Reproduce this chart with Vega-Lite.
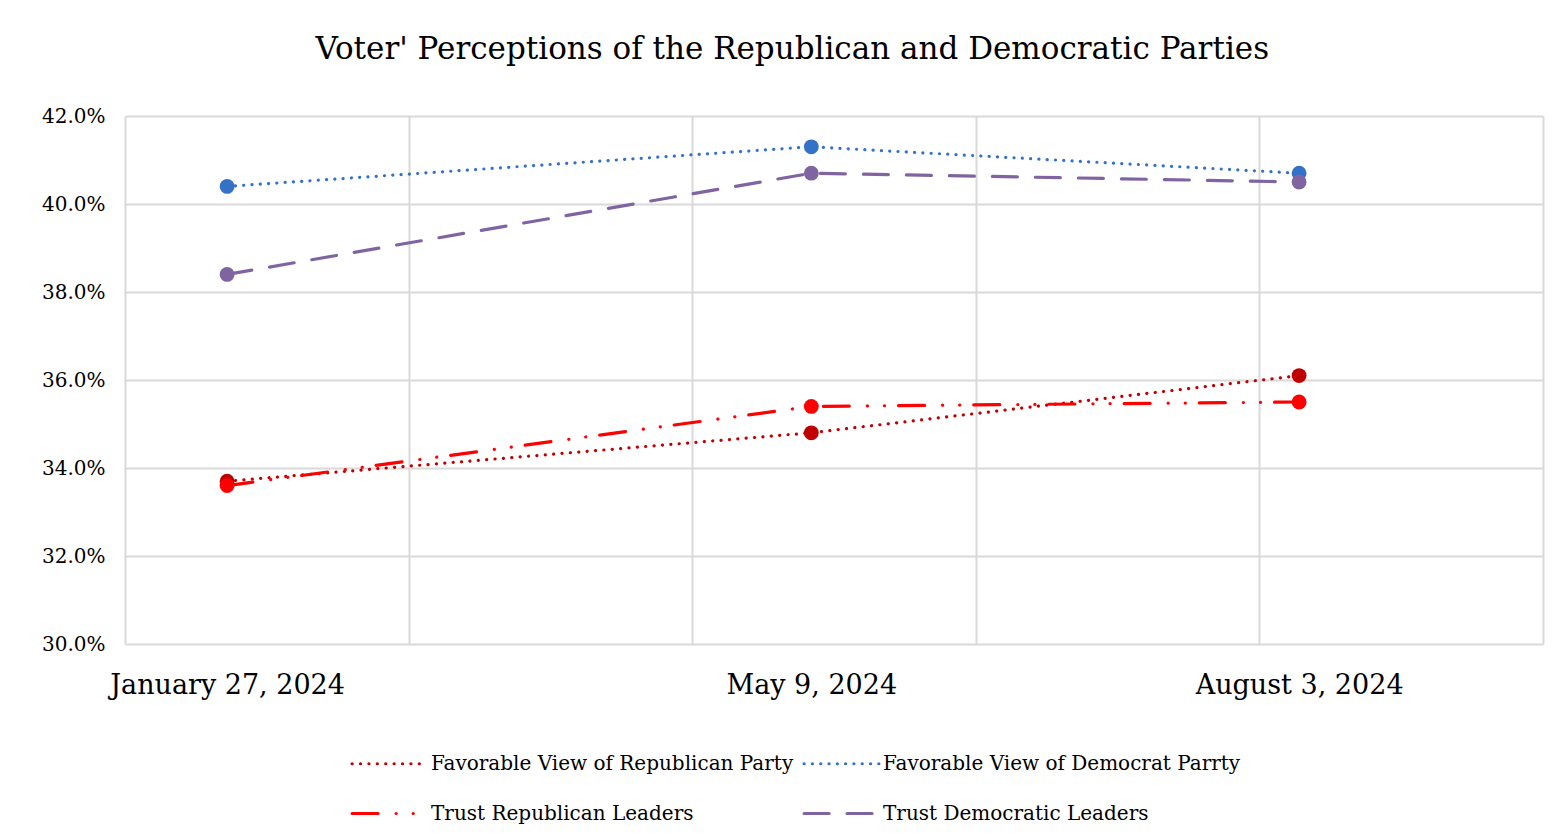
{
  "$schema": "https://vega.github.io/schema/vega-lite/v6.json",
  "width": 1418,
  "height": 528,
  "padding": {"left": 41, "top": 34, "right": 18, "bottom": 10},
  "background": "white",
  "title": {
    "text": "Voter' Perceptions of the Republican and Democratic Parties",
    "font": "DejaVu Serif",
    "fontSize": 31,
    "fontWeight": "normal",
    "color": "black",
    "anchor": "middle",
    "frame": "bounds",
    "offset": 40
  },
  "data": {
    "values": [
      {"date": "2024-01-27", "series": "Favorable View of Republican Party", "value": 0.337},
      {"date": "2024-05-09", "series": "Favorable View of Republican Party", "value": 0.348},
      {"date": "2024-08-03", "series": "Favorable View of Republican Party", "value": 0.361},
      {"date": "2024-01-27", "series": "Favorable View of Democrat Parrty", "value": 0.404},
      {"date": "2024-05-09", "series": "Favorable View of Democrat Parrty", "value": 0.413},
      {"date": "2024-08-03", "series": "Favorable View of Democrat Parrty", "value": 0.407},
      {"date": "2024-01-27", "series": "Trust Republican Leaders", "value": 0.336},
      {"date": "2024-05-09", "series": "Trust Republican Leaders", "value": 0.354},
      {"date": "2024-08-03", "series": "Trust Republican Leaders", "value": 0.355},
      {"date": "2024-01-27", "series": "Trust Democratic Leaders", "value": 0.384},
      {"date": "2024-05-09", "series": "Trust Democratic Leaders", "value": 0.407},
      {"date": "2024-08-03", "series": "Trust Democratic Leaders", "value": 0.405}
    ]
  },
  "layer": [
    {
      "mark": {"type": "line", "strokeCap": "round"},
      "encoding": {
        "x": {
          "field": "date", "type": "temporal",
          "scale": {"type": "utc", "domain": [{"year": 2024, "month": 1, "date": 9, "utc": true}, {"year": 2024, "month": 9, "date": 15, "utc": true}]},
          "axis": {
            "orient": "top", "title": null, "labels": false, "ticks": false, "domain": false,
            "grid": true, "gridColor": "#d9d9d9", "gridWidth": 2,
            "values": [
              {"year": 2024, "month": 1, "date": 9, "utc": true},
              {"year": 2024, "month": 2, "date": 28, "utc": true},
              {"year": 2024, "month": 4, "date": 18, "utc": true},
              {"year": 2024, "month": 6, "date": 7, "utc": true},
              {"year": 2024, "month": 7, "date": 27, "utc": true},
              {"year": 2024, "month": 9, "date": 15, "utc": true}
            ]
          }
        },
        "y": {
          "field": "value", "type": "quantitative",
          "scale": {"domain": [0.30, 0.42], "nice": false, "zero": false},
          "axis": {
            "title": null, "format": ".1%", "values": [0.30, 0.32, 0.34, 0.36, 0.38, 0.40, 0.42],
            "grid": true, "gridColor": "#d9d9d9", "gridWidth": 2,
            "ticks": false, "domain": false, "labelPadding": 20,
            "labelFont": "DejaVu Serif", "labelFontSize": 20, "labelColor": "black"
          }
        },
        "color": {
          "field": "series", "type": "nominal",
          "scale": {
            "domain": ["Favorable View of Republican Party", "Favorable View of Democrat Parrty", "Trust Republican Leaders", "Trust Democratic Leaders"],
            "range": ["#c00000", "#3472c8", "#ff0000", "#8064a2"]
          },
          "legend": {"title": null, "direction": "horizontal", "encode": {"symbols": {"update": {"strokeCap": {"value": "round"}}}}}
        },
        "strokeDash": {
          "field": "series", "type": "nominal",
          "scale": {
            "domain": ["Favorable View of Republican Party", "Favorable View of Democrat Parrty", "Trust Republican Leaders", "Trust Democratic Leaders"],
            "range": [[0.1, 8.3], [0.1, 8.2], [26, 18, 0.1, 17, 0.1, 14], [25, 18]]
          },
          "legend": {"title": null, "direction": "horizontal", "encode": {"symbols": {"update": {"strokeCap": {"value": "round"}}}}}
        },
        "strokeWidth": {
          "field": "series", "type": "nominal",
          "scale": {
            "domain": ["Favorable View of Republican Party", "Favorable View of Democrat Parrty", "Trust Republican Leaders", "Trust Democratic Leaders"],
            "range": [3.2, 3.2, 4.5, 4.5]
          },
          "legend": null
        }
      }
    },
    {
      "mark": {"type": "point", "filled": true, "shape": "circle", "size": 220, "opacity": 1},
      "encoding": {
        "x": {
          "field": "date", "type": "temporal",
          "axis": {
            "orient": "bottom", "title": null, "grid": false, "ticks": false, "domain": false,
            "values": [
              {"year": 2024, "month": 1, "date": 27, "utc": true},
              {"year": 2024, "month": 5, "date": 9, "utc": true},
              {"year": 2024, "month": 8, "date": 3, "utc": true}
            ],
            "format": "%B %-d, %Y", "labelPadding": 28, "labelLimit": 500,
            "labelFont": "DejaVu Serif", "labelFontSize": 27, "labelColor": "black",
            "labelOverlap": false, "labelFlush": false
          }
        },
        "y": {"field": "value", "type": "quantitative"},
        "color": {"field": "series", "type": "nominal", "legend": null}
      }
    }
  ],
  "resolve": {"axis": {"x": "independent"}},
  "config": {
    "view": {"stroke": null},
    "legend": {
      "orient": "none",
      "legendX": 225,
      "legendY": 608,
      "columns": 2,
      "symbolType": "stroke",
      "symbolSize": 5600,
      "symbolStrokeWidth": 3.5,
      "labelFont": "DejaVu Serif",
      "labelFontSize": 20,
      "labelColor": "black",
      "labelLimit": 600,
      "labelOffset": 2,
      "rowPadding": -44,
      "columnPadding": 3
    }
  }
}
